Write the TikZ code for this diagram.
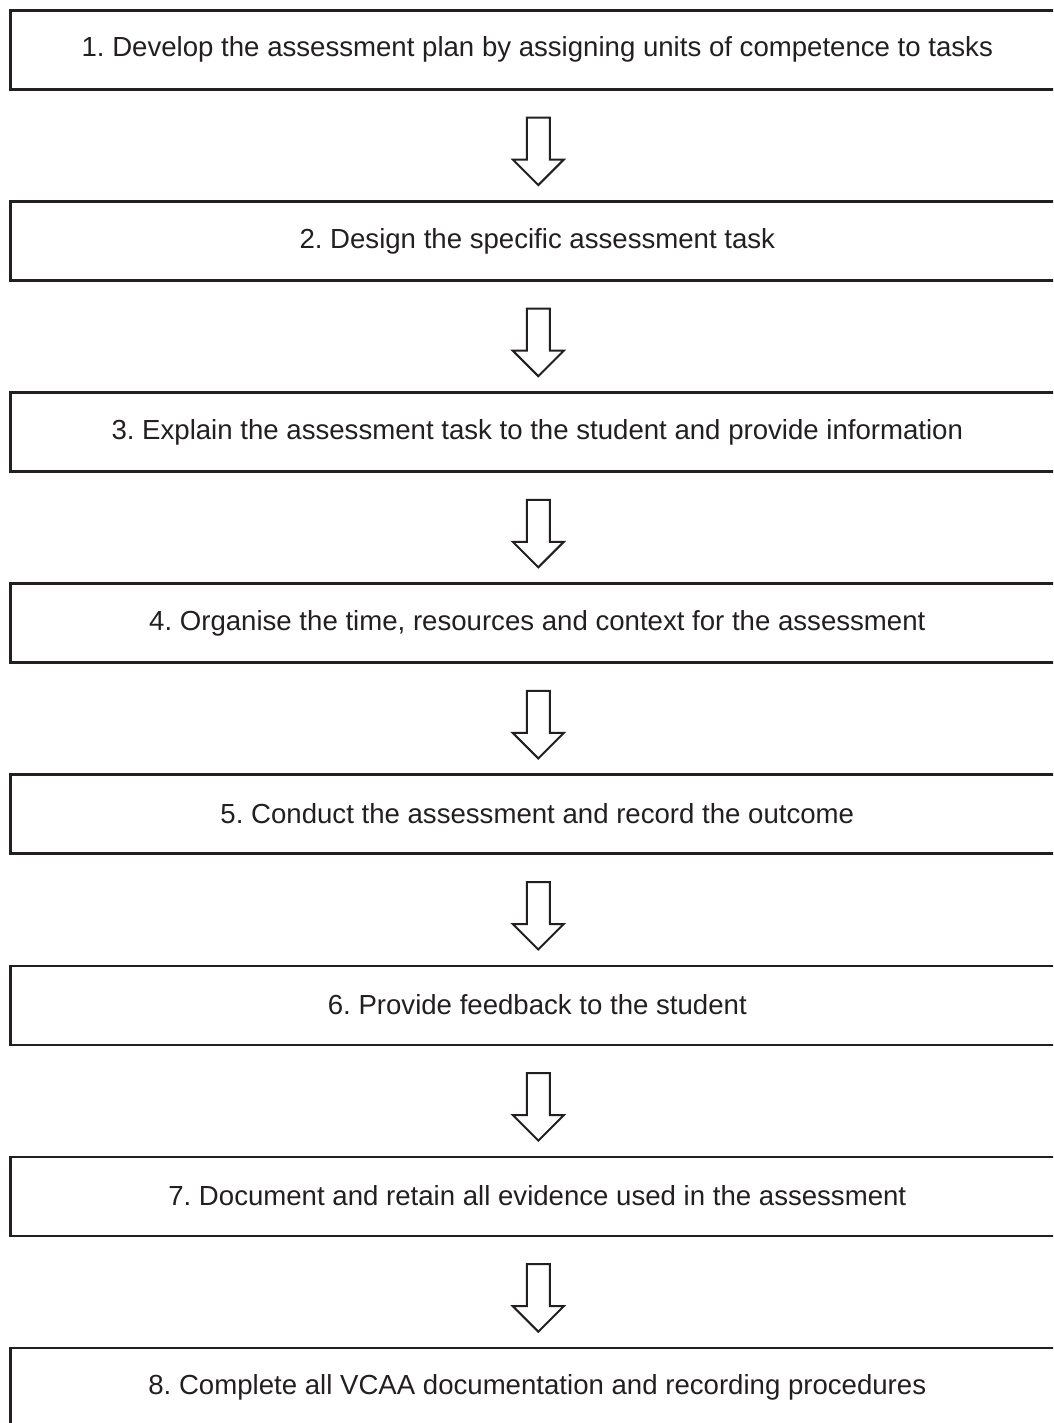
\documentclass[tikz,border=0pt]{standalone}
\usepackage{fontspec}
\setmainfont{Liberation Sans}
\usetikzlibrary{calc}
\definecolor{ink}{HTML}{231F20}
\frenchspacing
\begin{document}
\begin{tikzpicture}[x=1pt,y=-1pt,
  stepbox/.style={draw=ink,line width=2.6pt,minimum width=1054pt,minimum height=79pt,
    inner sep=0pt,anchor=north west,font=\fontsize{27.6}{32}\selectfont,text=ink},
  flowarrow/.style={draw=ink,line width=2pt,fill=white,line join=miter}]
\useasboundingbox (0,0) rectangle (1053,1423);
\clip (0,0) rectangle (1053,1423);
\foreach \i/\t in {1/{1. Develop the assessment plan by assigning units of competence to tasks},
  2/{2. Design the specific assessment task},
  3/{3. Explain the assessment task to the student and provide information},
  4/{4. Organise the time, resources and context for the assessment},
  5/{5. Conduct the assessment and record the outcome},
  6/{6. Provide feedback to the student},
  7/{7. Document and retain all evidence used in the assessment},
  8/{8. Complete all VCAA documentation and recording procedures}}{
  \node[stepbox] (b\i) at (9,{9+(\i-1)*191.1}) {\raisebox{1.5pt}{\frenchspacing\t}};
}
\foreach \i [evaluate=\i as \j using int(\i+1)] in {1,...,7}{
  \coordinate (a\i) at ($(b\i.south)+(1,0)$);
  \draw[flowarrow] ($(a\i)+(-11.5,27)$) -- ($(a\i)+(11.5,27)$) -- ($(a\i)+(11.5,69)$)
    -- ($(a\i)+(25.5,69)$) -- ($(b\j.north)+(1,-15)$) -- ($(a\i)+(-25.5,69)$)
    -- ($(a\i)+(-11.5,69)$) -- cycle;
}
\end{tikzpicture}
\end{document}
